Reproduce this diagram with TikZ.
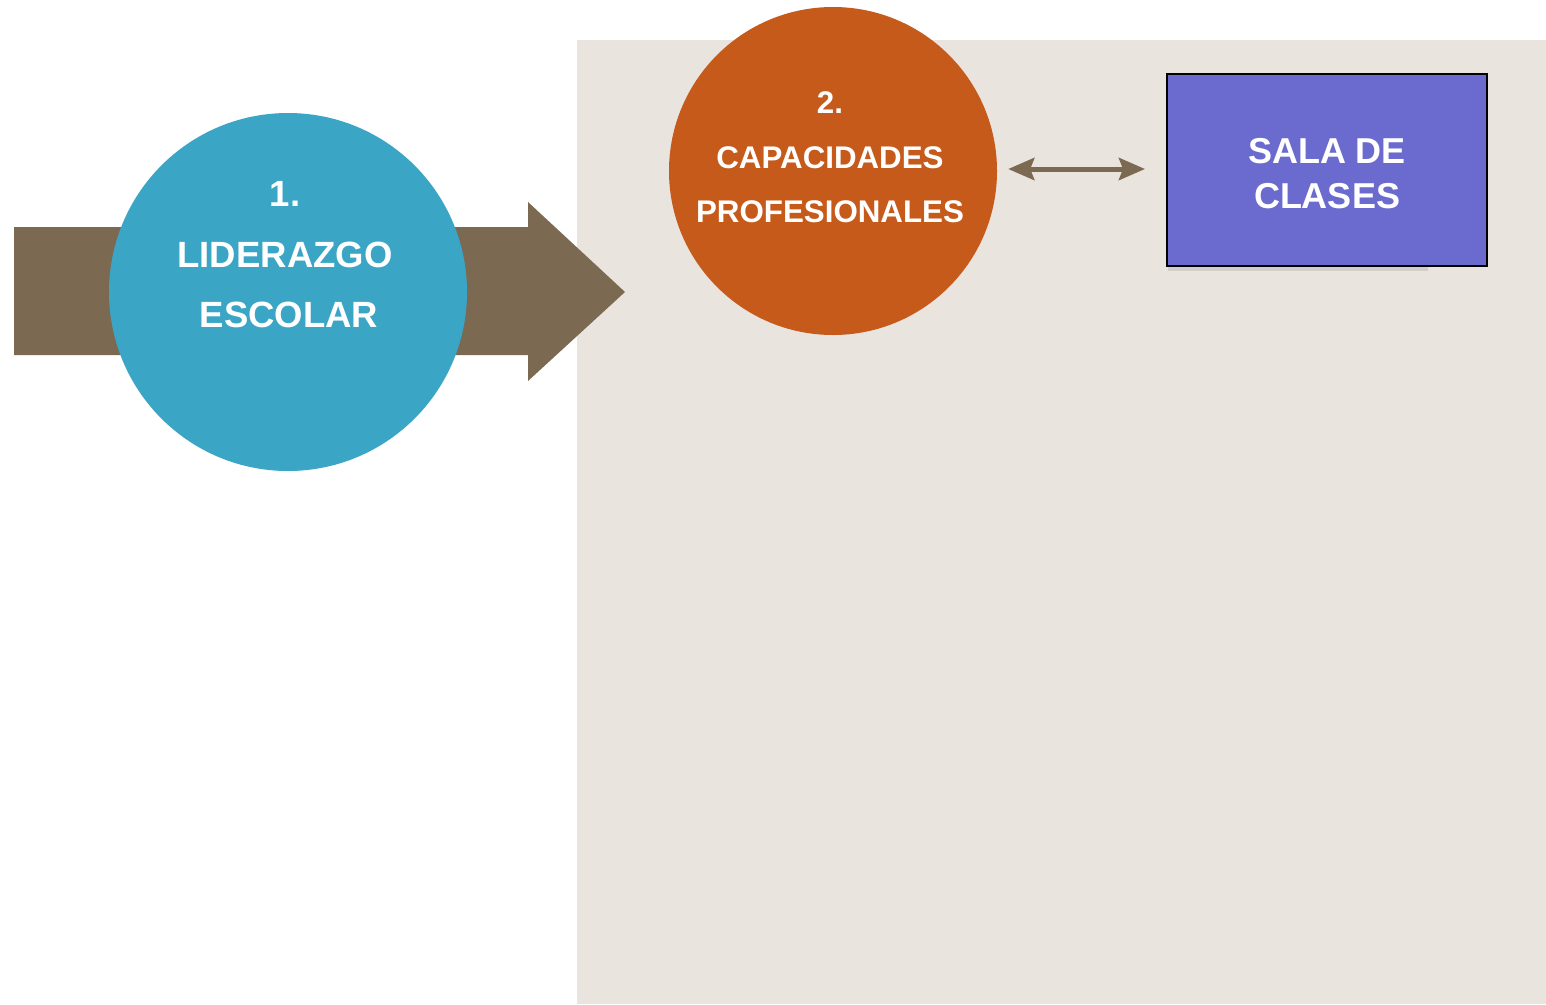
\documentclass[tikz,border=0pt]{standalone}
\usepackage{fontspec}
\setmainfont{Liberation Sans}
\usetikzlibrary{arrows.meta}
\definecolor{bgbeige}{HTML}{EAE4DE}
\definecolor{arrbrown}{HTML}{7B6952}
\definecolor{cblue}{HTML}{3BA5C6}
\definecolor{corange}{HTML}{C55A1B}
\definecolor{cpurple}{HTML}{6B6BCF}
\tikzset{
  lbl/.style={text=white,font=\bfseries,inner sep=0pt,anchor=center},
  bigfont/.style={font=\bfseries\fontsize{36.5}{40}\selectfont},
  midfont/.style={font=\bfseries\fontsize{31.3}{36}\selectfont},
  boxfont/.style={font=\bfseries\fontsize{36}{40}\selectfont},
  dblarrow/.style={arrbrown,line width=5pt,>={Stealth[length=26pt,width=22pt,inset=4pt]},<->},
}
\begin{document}
\begin{tikzpicture}[x=1pt,y=-1pt]
\useasboundingbox (0,0) rectangle (1546,1004);
\fill[white] (0,0) rectangle (1546,1004);
\fill[bgbeige] (577,40) rectangle (1546,1004);
% big arrow
\fill[arrbrown] (14,227) -- (528,227) -- (528,202) -- (625,292) -- (528,381) -- (528,355) -- (14,355) -- cycle;
% circles
\node[circle,fill=cblue,minimum size=358pt,inner sep=0pt] (c1) at (288,292) {};
\node[circle,fill=corange,minimum size=328pt,inner sep=0pt] (c2) at (833,171) {};
% box
\fill[black!25,opacity=0.6] (1168,266) rectangle (1428,271);
\node[draw=black,line width=2pt,fill=cpurple,minimum width=320pt,minimum height=192pt,inner sep=0pt] (box) at (1327,170) {};
% texts
\node[lbl,bigfont] (t1a) at (285,194) {1.};
\node[lbl,bigfont] (t1b) at (285,255) {LIDERAZGO};
\node[lbl,bigfont] (t1c) at (289,315) {ESCOLAR};
\node[lbl,midfont] (t2a) at (830,103) {2.};
\node[lbl,midfont] (t2b) at (830,158) {CAPACIDADES};
\node[lbl,midfont] (t2c) at (830,212) {PROFESIONALES};
\node[lbl,boxfont] (t3a) at (1327,151) {SALA DE};
\node[lbl,boxfont] (t3b) at (1327,196) {CLASES};
% double arrow
\draw[dblarrow,shorten <=11pt,shorten >=21pt] (c2.east |- 0,169) -- (box.west |- 0,169);
\end{tikzpicture}
\end{document}
